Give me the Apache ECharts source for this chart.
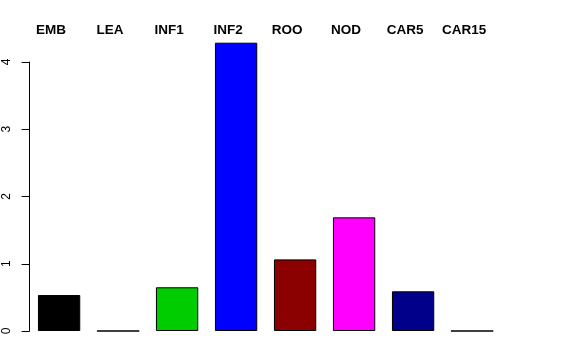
<!DOCTYPE html>
<html>
<head>
<meta charset="utf-8">
<script src="https://cdn.jsdelivr.net/npm/echarts@6/dist/echarts.min.js"></script>
<style>html,body{margin:0;padding:0;background:#fff}#c{width:576px;height:360px}</style>
</head>
<body>
<div id="c"></div>
<script>
var categories = ['EMB', 'LEA', 'INF1', 'INF2', 'ROO', 'NOD', 'CAR5', 'CAR15'];
var values = [0.535, 0, 0.65, 4.287, 1.065, 1.69, 0.59, 0];
var barColors = ['#000000', '#FF0000', '#00CD00', '#0000FF', '#8B0000', '#FF00FF', '#00008B', '#FFFF00'];
var yTicks = [0, 1, 2, 3, 4];

var chart = echarts.init(document.getElementById('c'), null, {renderer: 'canvas'});
chart.setOption({
  animation: false,
  backgroundColor: '#ffffff',
  grid: {left: 29.6, right: 74.4, top: 62, bottom: 29, containLabel: false},
  xAxis: {
    type: 'category',
    position: 'top',
    data: categories,
    axisLine: {show: false},
    axisTick: {show: false},
    axisLabel: {
      interval: 0,
      margin: 25,
      color: '#000',
      fontFamily: 'Liberation Sans, Arial, sans-serif',
      fontWeight: 'bold',
      fontSize: 13.5,
      padding: [0, 16, 0, 0]
    }
  },
  yAxis: {
    type: 'value',
    min: yTicks[0],
    max: yTicks[yTicks.length - 1],
    interval: 1,
    axisLine: {show: true, lineStyle: {color: '#000', width: 1}},
    axisTick: {show: true, length: 8, lineStyle: {color: '#000', width: 1}},
    splitLine: {show: false},
    axisLabel: {
      rotate: 90,
      margin: 17,
      color: '#000',
      fontFamily: 'Liberation Sans, Arial, sans-serif',
      fontSize: 12
    }
  },
  series: [{
    type: 'bar',
    clip: false,
    barCategoryGap: '28.3%',
    data: values.map(function (v, i) {
      return {value: v, itemStyle: {color: barColors[i]}};
    }),
    itemStyle: {borderColor: '#000', borderWidth: 1}
  }]
});
</script>
</body>
</html>
